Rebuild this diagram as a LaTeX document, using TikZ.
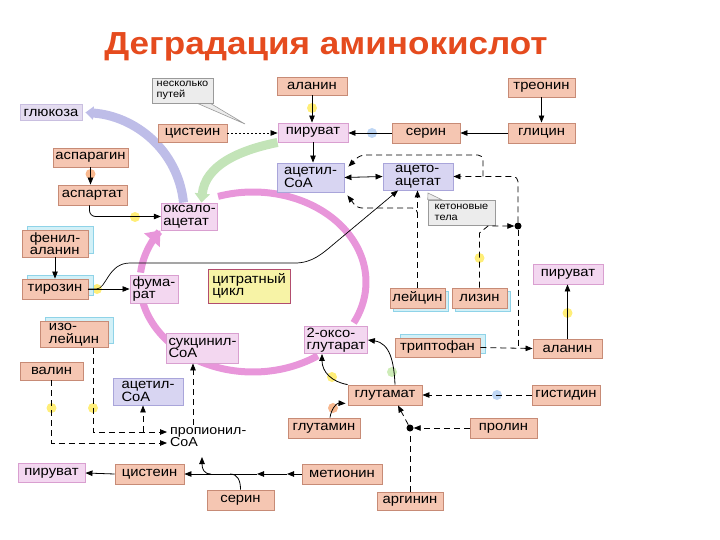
\documentclass[tikz,border=0pt]{standalone}
\usepackage{fontspec}
\setmainfont{Liberation Sans}[FakeStretch=1.1]
\usetikzlibrary{arrows.meta,shadows,backgrounds,calc}
\definecolor{salf}{HTML}{F5C6B2}
\definecolor{sald}{HTML}{C78B76}
\definecolor{pinkf}{HTML}{F3D7F0}
\definecolor{pinkd}{HTML}{D99FD0}
\definecolor{lavf}{HTML}{D8D5F2}
\definecolor{lavd}{HTML}{A9A5DA}
\definecolor{yelf}{HTML}{F7F3A6}
\definecolor{yeld}{HTML}{B24D6E}
\definecolor{cyanf}{HTML}{D2F0F7}
\definecolor{cyand}{HTML}{8FD3E8}
\definecolor{notef}{HTML}{ECECEC}
\definecolor{noted}{HTML}{9A9A9A}
\definecolor{ringc}{HTML}{E896DA}
\definecolor{glukf}{HTML}{E4DCF0}
\definecolor{glukd}{HTML}{C9BFE0}
\definecolor{bandl}{HTML}{BEBDE8}
\definecolor{bandg}{HTML}{C3E4B8}
\definecolor{titlec}{HTML}{E54B1E}
\definecolor{glowy}{HTML}{FFE84A}
\definecolor{glowo}{HTML}{F5A06A}
\definecolor{glowb}{HTML}{A8C8F0}
\definecolor{glowg}{HTML}{BDE6A0}
\begin{document}
\begin{tikzpicture}[x=1bp,y=-1bp,
  base/.style={rectangle, inner xsep=2bp, inner ysep=1bp, font=\fontsize{13.5}{12.5}\selectfont, align=left, line width=0.9bp},
  sbox/.style={base, fill=salf, draw=sald},
  pbox/.style={base, fill=pinkf, draw=pinkd},
  lbox/.style={base, fill=lavf, draw=lavd},
  cyb/.style={copy shadow={shadow xshift=5bp, shadow yshift=4bp, fill=cyanf, draw=cyand, line width=0.9bp}},
  cyd/.style={copy shadow={shadow xshift=3bp, shadow yshift=-3bp, fill=cyanf, draw=cyand, line width=0.9bp}},
  notebox/.style={rectangle, fill=notef, draw=noted, line width=0.6bp, inner sep=2bp, font=\fontsize{10}{10.5}\selectfont, align=left},
  arr/.style={-{Triangle[length=7bp,width=5.5bp]}, line width=0.8bp},
  arr2/.style={{Triangle[length=7bp,width=5.5bp]}-{Triangle[length=7bp,width=5.5bp]}, line width=0.8bp},
  dsh/.style={dash pattern=on 6bp off 4bp},
  dtt/.style={dash pattern=on 2bp off 2bp},
  glow/.style={circle, inner sep=0pt, minimum size=10bp, fill opacity=0.75},
  jdot/.style={circle, fill=black, inner sep=0pt, minimum size=7bp},
]
\useasboundingbox (0,0) rectangle (720,540);

% title
\node[font=\bfseries\fontsize{32}{36}\selectfont, text=titlec, inner sep=0pt] (title) at (326,47) {Деградация аминокислот};

% nodes
\node[sbox, minimum width=70bp, minimum height=18bp] (alanin1) at (312,86) {аланин};
\node[pbox, minimum width=70bp, minimum height=19bp] (pyruvat1) at (313,132.5) {пируват};
\node[sbox, minimum width=68bp, minimum height=20bp] (serin1) at (426,133) {серин};
\node[sbox, minimum width=67bp, minimum height=19bp] (treonin) at (541.5,87.5) {треонин};
\node[sbox, minimum width=67bp, minimum height=20bp] (glicin) at (541.5,133) {глицин};
\node[sbox, minimum width=69bp, minimum height=18bp] (cystein1) at (192.5,133) {цистеин};
\node[notebox, minimum width=61bp, minimum height=25bp] (note1) at (182.5,90.5) {несколько\\путей};
\node[base, fill=glukf, draw=glukd, minimum width=62bp, minimum height=16bp] (glukoza) at (51,112.5) {глюкоза};
\node[sbox, minimum width=75bp, minimum height=19bp] (asparagin) at (90.5,157.5) {аспарагин};
\node[sbox, minimum width=69bp, minimum height=20bp] (aspartat) at (92.5,195) {аспартат};
\node[lbox, minimum width=67bp, minimum height=29bp] (acetyl1) at (310.5,177.5) {ацетил-\\СоА};
\node[lbox, minimum width=70bp, minimum height=27bp] (acetoac) at (418,176.5) {ацето-\\ацетат};
\node[notebox, minimum width=67bp, minimum height=25bp] (ketone) at (461.5,212.5) {кетоновые\\тела};
\node[jdot] (dot1) at (518,226) {};
\node[pbox, minimum width=55bp, minimum height=27bp] (oxalo) at (189.5,216.5) {оксало-\\ацетат};
\node[sbox, cyb, minimum width=66bp, minimum height=27bp] (fenil) at (55,243.5) {фенил-\\аланин};
\node[sbox, cyb, minimum width=66bp, minimum height=20bp] (tyrosin) at (55,289) {тирозин};
\node[pbox, minimum width=48bp, minimum height=28bp] (fumarat) at (154,289) {фума-\\рат};
\node[base, fill=yelf, draw=yeld, minimum width=82bp, minimum height=34bp] (citrate) at (249,286) {цитратный\\цикл};
\node[sbox, cyb, minimum width=68bp, minimum height=26bp] (isoleu) at (74,334.5) {изо-\\лейцин};
\node[sbox, minimum width=63bp, minimum height=18bp] (valin) at (51.5,371) {валин};
\node[pbox, minimum width=71bp, minimum height=30bp] (succ) at (202.5,348) {сукцинил-\\СоА};
\node[pbox, minimum width=62bp, minimum height=27bp] (oxoglut) at (336,340) {2-оксо-\\глутарат};
\node[sbox, cyd, minimum width=55bp, minimum height=20bp] (leucin) at (417.5,298) {лейцин};
\node[sbox, cyd, minimum width=55bp, minimum height=20bp] (lysin) at (479.5,298) {лизин};
\node[pbox, minimum width=70bp, minimum height=20bp] (pyruvat2) at (568,274) {пируват};
\node[sbox, cyb, minimum width=85bp, minimum height=19bp] (tryptophan) at (437.5,347.5) {триптофан};
\node[sbox, minimum width=69bp, minimum height=19bp] (alanin2) at (567.5,348.5) {аланин};
\node[sbox, minimum width=74bp, minimum height=20bp] (glutamat) at (385,395) {глутамат};
\node[sbox, minimum width=68bp, minimum height=20bp] (histidin) at (566,395) {гистидин};
\node[lbox, minimum width=70bp, minimum height=27bp] (acetyl2) at (148,391.5) {ацетил-\\СоА};
\node[anchor=west, inner sep=0pt, font=\fontsize{13}{12}\selectfont, align=left] (propionyl) at (170,437.5) {пропионил-\\СоА};
\node[sbox, minimum width=72bp, minimum height=20bp] (glutamin) at (324,428) {глутамин};
\node[sbox, minimum width=67bp, minimum height=20bp] (prolin) at (503.5,428) {пролин};
\node[jdot] (dot2) at (410,428) {};
\node[pbox, minimum width=67bp, minimum height=19bp] (pyruvat3) at (51.5,473) {пируват};
\node[sbox, minimum width=69bp, minimum height=20bp] (cystein2) at (149.5,474) {цистеин};
\node[sbox, minimum width=80bp, minimum height=20bp] (metionin) at (342,474) {метионин};
\node[sbox, minimum width=67bp, minimum height=20bp] (serin2) at (240.5,500) {серин};
\node[sbox, minimum width=66bp, minimum height=18bp] (arginin) at (410,501) {аргинин};

% background: cycle ring, bands, glows, note pointers
\begin{scope}[on background layer]
  \draw[ringc, line width=7bp] plot[domain=-108:27, samples=60, smooth] ({253+113*cos(\x)},{282+90*sin(\x)});
  \draw[ringc, line width=7bp] plot[domain=55:122, samples=40, smooth] ({253+113*cos(\x)},{282+90*sin(\x)});
  \draw[ringc, line width=7bp] plot[domain=137:172, samples=30, smooth] ({253+113*cos(\x)},{282+90*sin(\x)});
  \draw[ringc, line width=7bp, -{Triangle[width=20bp,length=13bp]}] plot[domain=186:215, samples=30, smooth] ({253+113*cos(\x)},{282+90*sin(\x)});
  \draw[bandl, line width=9bp, -{Triangle[width=13bp,length=8bp]}] ([xshift=-6bp]oxalo.north) .. controls (178,150) and (135,116) .. ([xshift=3bp]glukoza.east);
  \draw[bandg, line width=9bp, -{Triangle[width=15bp,length=9bp]}] (pyruvat1.south west) .. controls (240,150) and (205,165) .. ([xshift=12bp]oxalo.north);
  \fill[notef, draw=noted, line width=0.6bp] ([xshift=-16bp]note1.south east) -- (245,124) -- ([xshift=-3bp]note1.south east) -- cycle;
  \fill[notef, draw=noted, line width=0.6bp] (ketone.north west) -- (428,193) -- ([xshift=14bp]ketone.north west) -- cycle;
  \node[glow, fill=glowy] (g1) at (312,108) {};
  \node[glow, fill=glowb] (g2) at (372,133) {};
  \node[glow, fill=glowy] (g3) at (135,217) {};
  \node[glow, fill=glowo] (g4) at (90.5,174) {};
  \node[glow, fill=glowy] (g5) at (97,289) {};
  \node[glow, fill=glowy] (g6) at (51.5,408) {};
  \node[glow, fill=glowy] (g7) at (93,408) {};
  \node[glow, fill=glowy] (g8) at (479.5,258) {};
  \node[glow, fill=glowy] (g9) at (567.5,313) {};
  \node[glow, fill=glowy] (g10) at (332,377) {};
  \node[glow, fill=glowg] (g11) at (392,372) {};
  \node[glow, fill=glowb] (g12) at (497,395) {};
  \node[glow, fill=glowo] (g13) at (333,408) {};
\end{scope}

% solid connectors
\draw[arr] (alanin1.south) -- (alanin1.south |- pyruvat1.north);
\draw[arr] (treonin.south) -- (glicin.north);
\draw[arr] (glicin.west) -- (serin1.east);
\draw[arr] (serin1.west) -- (serin1.west -| pyruvat1.east);
\draw[arr, dtt] (cystein1.east) -- (cystein1.east -| pyruvat1.west);
\draw[arr] (pyruvat1.south) -- (pyruvat1.south |- acetyl1.north);
\draw[arr2] (acetyl1.east) -- (acetoac.west);
\draw[arr] (asparagin.south) -- (asparagin.south |- aspartat.north);
\draw[arr, rounded corners=6bp] ([xshift=-3bp]aspartat.south) |- (oxalo.west);
\draw[arr] (fenil.south) -- (tyrosin.north);
\draw[arr] (tyrosin.east) -- (fumarat.west);
\draw[arr, line width=0.7bp] (tyrosin.east) -- ++(8,0) .. controls +(10,0) and (108,263) .. (130,263) -- (295,263) .. controls (312,263) and (322,254) .. (335,243) -- ([xshift=-20bp]acetoac.south);
\draw[arr] (alanin2.north) -- (alanin2.north |- pyruvat2.south);
\draw[arr] ([xshift=10bp]glutamat.north) .. controls (394,362) and (390,343) .. (oxoglut.east);
\draw[arr] (glutamat.north west) .. controls (332,382) and (322,372) .. ([xshift=-14bp]oxoglut.south);
\draw[arr] ([xshift=6bp]glutamin.north) .. controls (331,410) and (336,403) .. ([shift={(-2,-2)}]glutamat.south west);
\draw[arr] (metionin.west) -- (287,474);
\draw[arr] (287,474) -- (257,474);
\draw[arr] (257,474) -- (cystein2.east);
\draw[line width=0.8bp] (serin2.north) .. controls (240.5,481) and (238,474) .. (230,474);
\coordinate (jb) at (211,474);
\draw[arr] (jb) .. controls (204,474) and (202,469) .. (202,457);
\draw[arr] (cystein2.west) -- (pyruvat3.east);

% dashed connectors
\coordinate (jtop) at (483,176.5);
\draw[arr, dsh, rounded corners=5bp] (dot1.north) |- (acetoac.east);
\draw[arr, dsh, rounded corners=5bp] (jtop) -- (483,155) -- (360,155) -- ([shift={(4,4)}]acetyl1.north east);
\draw[arr, dsh] (leucin.north) -- (leucin.north |- acetoac.south);
\coordinate (jl) at (417.5,216);
\draw[arr, dsh, rounded corners=5bp] (jl) |- (357,208) -- ([shift={(3,3)}]acetyl1.south east);
\draw[arr, dsh] (lysin.north) -- (479.5,233) -- (488,226) -- (dot1.west);
\draw[arr, dsh] (tryptophan.east) -- (alanin2.west);
\draw[dsh] (dot1.south) -- (dot1.south |- tryptophan.east);
\draw[arr, dsh] (histidin.west) -- (glutamat.east);
\draw[arr, dsh] (prolin.west) -- (dot2.east);
\draw[dsh, line width=0.8bp] (arginin.north) -- (dot2.south);
\draw[arr, dsh] (dot2) -- ([xshift=13bp]glutamat.south);
\draw[arr, dsh] ([xshift=19bp]isoleu.south) |- ([shift={(-3bp,5.5bp)}]propionyl.west);
\draw[arr, dsh] (valin.south) |- ([shift={(-3bp,-5.5bp)}]propionyl.west);
\coordinate (jp) at (143,432);
\draw[arr, dsh] (jp) -- (jp |- acetyl2.south);
\coordinate (pc) at (193,425);
\draw[arr, dsh] (pc) -- (pc |- succ.south);
\end{tikzpicture}
\end{document}
